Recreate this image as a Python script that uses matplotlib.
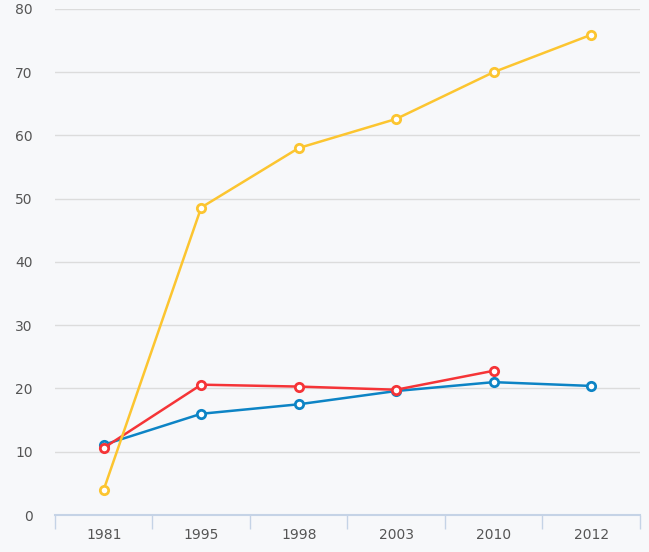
import numpy as np
import matplotlib
matplotlib.use("Agg")
import matplotlib.pyplot as plt

years = ["1981", "1995", "1998", "2003", "2010", "2012"]
yellow_vals = [4.0, 48.6, 58.0, 62.6, 70.0, 75.9]
red_vals = [10.6, 20.6, 20.3, 19.8, 22.8, np.nan]
blue_vals = [11.1, 16.0, 17.5, 19.6, 21.0, 20.4]
y_ticks = [0, 10, 20, 30, 40, 50, 60, 70, 80]

bg = '#f7f8fa'
fig = plt.figure(figsize=(6.49, 5.52), dpi=100, facecolor=bg)
ax = fig.add_axes([0.0847, 0.067, 0.9013, 0.917], facecolor=bg)

x = np.arange(len(years))
ax.plot(x, blue_vals, color='#0d84c5', lw=1.8, marker='o', ms=6, mfc='white', mec='#0d84c5', mew=2, zorder=3)
ax.plot(x, red_vals, color='#f53437', lw=1.8, marker='o', ms=6, mfc='white', mec='#f53437', mew=2, zorder=4)
ax.plot(x, yellow_vals, color='#fcc530', lw=1.8, marker='o', ms=6, mfc='white', mec='#fcc530', mew=2, zorder=5)

ax.set_xlim(-0.5, len(years) - 0.5)
ax.set_ylim(0, 80)
ax.set_yticks(y_ticks)
ax.grid(axis='y', color='#dcdcdc', lw=1)
ax.set_axisbelow(True)

ax.set_xticks(np.arange(-0.5, len(years), 1.0))
ax.set_xticklabels([])
ax.set_xticks(x, minor=True)
ax.set_xticklabels(years, minor=True)
ax.tick_params(axis='x', which='major', length=10, color='#c5d3e6', width=1)
ax.tick_params(axis='x', which='minor', length=0, pad=9, labelsize=10, labelcolor='#555555')
ax.tick_params(axis='y', length=0, pad=16, labelsize=10, labelcolor='#555555')

for s in ['top', 'right', 'left']:
    ax.spines[s].set_visible(False)
ax.spines['bottom'].set_color('#c5d3e6')
ax.spines['bottom'].set_linewidth(1.5)

fig.savefig('out.png', dpi=100, facecolor=bg)
